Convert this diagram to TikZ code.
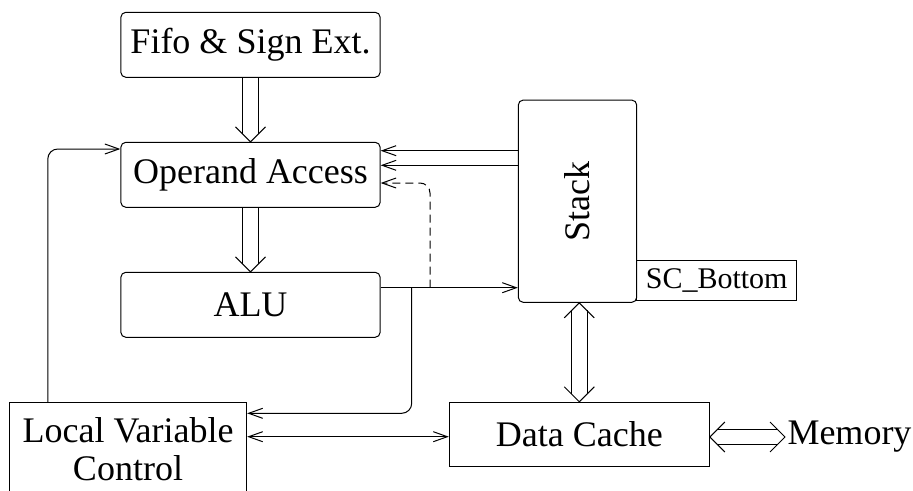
\documentclass[tikz,border=0pt]{standalone}
\usepackage{fontspec}
\setmainfont{Liberation Serif}
\usetikzlibrary{arrows.meta,calc}

% open V heads for the wide (double-line) buses
\newcommand\busheadDown[1]{\draw ($(#1)+(-15,-15)$) -- (#1) -- ($(#1)+(15,-15)$);}
\newcommand\busheadUp[1]{\draw ($(#1)+(-15,15)$) -- (#1) -- ($(#1)+(15,15)$);}
\newcommand\busheadLeft[1]{\draw ($(#1)+(15,-15)$) -- (#1) -- ($(#1)+(15,15)$);}
\newcommand\busheadRight[1]{\draw ($(#1)+(-15,-15)$) -- (#1) -- ($(#1)+(-15,15)$);}

\begin{document}
\begin{tikzpicture}[x=1pt,y=-1pt,line width=1pt,
  unitbox/.style={draw,rounded corners=5pt,minimum width=259.3pt,minimum height=65pt,
    inner sep=0pt,font=\fontsize{36}{40}\selectfont},
  plainbox/.style={draw,inner sep=0pt,font=\fontsize{36}{38}\selectfont},
  barb/.tip={Straight Barb[length=14pt,width=10pt]},
  arr/.style={-barb},
  bus/.style={double,double distance=14.6pt,line width=1pt}]
\useasboundingbox (0,0) rectangle (913,490);

% blocks
\node[unitbox] (fifo) at (250.5,44.8) {Fifo \& Sign Ext.};
\node[unitbox] (oa) at (250.5,174.8) {Operand Access};
\node[unitbox] (alu) at (250.5,304.8) {ALU};
\node[plainbox,minimum width=160pt,minimum height=40pt,font=\fontsize{30}{34}\selectfont]
  (scb) at (716.7,280) {SC\_Bottom};
\node[draw,rounded corners=5pt,minimum width=118.4pt,minimum height=202.3pt,inner sep=0pt]
  (stack) at (577.5,201.2) {};
\node[rotate=90,font=\fontsize{36}{40}\selectfont] at (stack.center) {Stack};
\node[plainbox,minimum width=237.4pt,minimum height=93.7pt,align=center]
  (lvc) at (128,449.2) {Local Variable\\Control};
\node[plainbox,minimum width=260pt,minimum height=64.4pt] (dc) at (579.3,434.5) {Data Cache};
\node[anchor=west,inner sep=2pt,font=\fontsize{36}{40}\selectfont] (mem) at (785,437) {Memory};

% wide buses
\draw[bus] (fifo.south) -- ($(oa.north)+(0,-7.5)$);
\busheadDown{oa.north}
\draw[bus] (oa.south) -- ($(alu.north)+(0,-7.5)$);
\busheadDown{alu.north}
\draw[bus] ($(stack.south -| dc.north)+(0,7.5)$) -- ($(dc.north)+(0,-7.5)$);
\busheadUp{stack.south -| dc.north}
\busheadDown{dc.north}
\draw[bus] ($(dc.east |- 0,437)+(7.5,0)$) -- ($(mem.west)+(-7.5,0)$);
\busheadLeft{dc.east |- 0,437}
\busheadRight{mem.west}

% single connections
\coordinate (split) at (411.7,287.7);
\coordinate (dsplit) at (430,287.7);
\draw[arr,rounded corners=10pt] (lvc.north west) ++(39,0) |- (oa.west |- 0,149);
\draw[arr] (stack.west |- 0,150.7) -- (oa.east |- 0,150.7);
\draw[arr] (stack.west |- 0,165.3) -- (oa.east |- 0,165.3);
\draw[arr] (alu.east |- 0,287.7) -- (stack.west |- 0,287.7);
\draw[arr,rounded corners=10pt] (split) |- (lvc.east |- 0,413.3);
\draw[arr,dashed,dash pattern=on 8pt off 5pt,rounded corners=10pt] (dsplit) |- (oa.east |- 0,183);
\draw[barb-barb] (lvc.east |- 0,436.7) -- (dc.west |- 0,436.7);
\end{tikzpicture}
\end{document}
